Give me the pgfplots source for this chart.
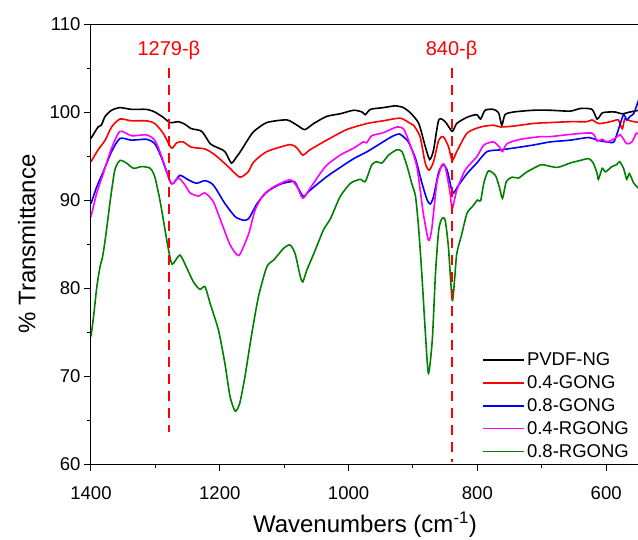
\documentclass[border=0pt]{standalone}
\usepackage{fontspec}
\setmainfont{Liberation Sans}
\usepackage{pgfplots}
\pgfplotsset{compat=1.18}
\definecolor{cgreen}{RGB}{0,128,0}
\definecolor{cmag}{RGB}{255,0,255}
\begin{document}
\begin{tikzpicture}
\begin{axis}[
  scale only axis, width=548pt, height=440pt,
  x dir=reverse, xmin=549, xmax=1400, ymin=60, ymax=110,
  axis line style={line width=1pt},
  xtick={600,800,1000,1200,1400}, ytick={60,70,...,110},
  extra x ticks={700,900,1100,1300}, extra y ticks={65,75,85,95,105},
  extra x tick labels={}, extra y tick labels={},
  extra tick style={major tick length=4pt, tick align=outside, tick pos=left},
  tick align=outside, tick pos=left,
  major tick length=7pt,
  tick style={line width=1pt, black},
  ticklabel style={font=\fontsize{18.5}{21}\selectfont},
  xticklabel style={yshift=-12pt},
  /pgf/number format/assume math mode=true,
  /pgf/number format/1000 sep={},
  xlabel={Wavenumbers (cm\textsuperscript{-1})},
  ylabel={\% Transmittance},
  label style={font=\fontsize{24}{28}\selectfont},
  xlabel style={at={(axis description cs:0.5,-0.138)}, anchor=center},
  ylabel style={at={(axis description cs:-0.117,0.5)}, anchor=center, rotate=0},
  legend style={at={(0.714,0.258)}, anchor=north west, draw=none, fill=none,
    font=\fontsize{18.5}{21}\selectfont, inner sep=0pt, row sep=4.5pt},
  legend cell align=left,
  legend image code/.code={\draw[#1, line width=1.6pt] (0pt,0pt) -- (38pt,0pt); \path (0pt,0pt) -- (41pt,0pt);},
]
\addplot[black, line width=1.6pt, smooth, tension=0.4] coordinates {(1400,97.0)(1389,98.3)(1384,98.5)(1378,99.5)(1368,100.2)(1355,100.5)(1337,100.3)(1314,100.3)(1301,100.0)(1288,99.4)(1277,98.8)(1264,98.9)(1254,98.6)(1244,98.1)(1228,97.8)(1215,96.4)(1205,96.0)(1192,95.5)(1182,94.2)(1174,94.9)(1168,95.5)(1156,96.9)(1147,97.8)(1127,98.8)(1096,99.1)(1080,98.5)(1068,98.0)(1054,98.7)(1034,99.5)(1013,99.8)(992,100.2)(979,100.0)(974,99.7)(966,100.3)(946,100.5)(927,100.7)(915,100.5)(904,99.9)(891,98.7)(881,96.1)(874,94.6)(868,95.7)(860,99.1)(850,98.9)(839,97.8)(832,98.7)(816,99.4)(801,99.7)(795,99.2)(788,100.2)(775,100.3)(767,99.9)(762,98.5)(757,99.7)(744,100.0)(713,100.2)(687,100.2)(656,100.1)(640,100.4)(622,100.3)(614,99.2)(606,99.9)(596,100.0)(586,100.0)(575,99.8)(563,100.0)(549,100.2)};
\addlegendentry{PVDF-NG}
\addplot[red, line width=1.6pt, smooth, tension=0.4] coordinates {(1400,94.35)(1389,95.7)(1378,96.8)(1368,98.3)(1355,99.2)(1337,99.0)(1314,99.0)(1301,98.7)(1288,97.6)(1275,95.9)(1267,96.5)(1257,96.6)(1244,96.0)(1223,95.8)(1207,95.1)(1187,93.8)(1169,92.6)(1156,93.2)(1147,94.35)(1127,95.5)(1091,96.3)(1080,95.9)(1071,95.1)(1060,95.7)(1034,96.8)(1003,98.0)(971,98.7)(946,99.0)(920,99.3)(904,98.7)(899,98.5)(889,97.2)(881,94.2)(875,93.4)(868,94.35)(860,96.8)(853,97.2)(845,96.1)(839,94.5)(832,95.5)(816,97.6)(795,98.3)(775,98.5)(764,98.3)(744,98.4)(713,98.7)(687,98.8)(656,98.9)(630,98.9)(622,99.1)(612,98.7)(600,98.8)(588,99.0)(581,99.1)(575,98.1)(571,99.2)(563,99.0)(549,98.8)};
\addlegendentry{0.4-GONG}
\addplot[blue, line width=1.6pt, smooth, tension=0.4] coordinates {(1400,89.6)(1391,91.5)(1381,93.2)(1368,95.5)(1355,97.0)(1337,96.8)(1314,96.9)(1301,96.4)(1291,94.9)(1277,92.1)(1272,91.9)(1262,92.8)(1249,92.3)(1236,91.9)(1223,92.2)(1210,91.7)(1192,89.6)(1176,88.1)(1163,87.7)(1155,87.9)(1142,89.6)(1127,90.9)(1106,91.8)(1085,92.1)(1078,91.3)(1070,90.4)(1060,91.1)(1034,92.65)(1013,93.7)(992,94.7)(971,95.5)(951,96.4)(933,97.2)(921,97.5)(912,97.0)(907,96.6)(896,94.7)(886,91.9)(878,90.0)(873,89.55)(868,90.4)(860,93.2)(853,94.0)(847,93.4)(841,91.5)(837,90.8)(829,91.7)(816,93.0)(801,94.2)(785,95.5)(764,95.7)(744,95.9)(713,96.25)(687,96.6)(656,96.8)(627,97.1)(614,96.8)(599,96.6)(588,96.6)(581,98.0)(573,99.7)(568,99.1)(563,99.5)(557,99.85)(549,101.5)};
\addlegendentry{0.8-GONG}
\addplot[cmag, line width=1.6pt, smooth, tension=0.4] coordinates {(1400,88.1)(1391,90.8)(1381,93.0)(1368,95.9)(1355,97.8)(1337,97.3)(1314,97.4)(1301,96.8)(1291,95.1)(1277,92.1)(1272,91.9)(1264,92.5)(1254,91.7)(1246,90.8)(1233,90.45)(1223,90.8)(1210,89.8)(1197,87.35)(1184,84.9)(1173,83.75)(1168,83.9)(1155,86.2)(1145,88.9)(1132,90.6)(1116,91.5)(1091,92.3)(1080,91.5)(1071,90.2)(1060,91.3)(1036,93.8)(1013,95.1)(992,95.9)(977,96.6)(972,96.5)(964,97.3)(946,97.65)(925,98.3)(915,98.1)(907,96.8)(894,93.8)(884,88.5)(876,85.45)(871,86.6)(863,91.9)(855,94.0)(850,93.8)(843,91.1)(839,89.05)(832,91.1)(819,93.4)(801,94.9)(790,96.25)(775,96.6)(766,96.05)(761,95.5)(754,96.4)(733,96.9)(702,97.2)(687,97.2)(656,97.45)(622,97.6)(614,96.7)(606,96.9)(599,96.6)(586,97.0)(578,97.4)(568,96.4)(560,96.6)(553,97.6)(549,97.4)};
\addlegendentry{0.4-RGONG}
\addplot[cgreen, line width=1.6pt, smooth, tension=0.4] coordinates {(1400,74.5)(1396,76.75)(1391,80.1)(1386,82.4)(1382,83.55)(1378,85.45)(1374,87.7)(1370,90.0)(1363,93.4)(1355,94.5)(1345,94.2)(1334,93.6)(1321,93.8)(1308,93.6)(1301,92.65)(1293,90.0)(1285,86.6)(1280,84.5)(1274,82.7)(1262,83.75)(1252,82.4)(1241,80.7)(1231,79.85)(1223,80.15)(1215,78.25)(1202,75.2)(1192,71.4)(1184,67.65)(1176,66.0)(1169,66.9)(1161,69.9)(1151,74.5)(1140,79.0)(1127,82.4)(1116,83.2)(1101,84.5)(1091,84.9)(1083,83.9)(1075,81.3)(1071,80.7)(1065,82.0)(1054,83.9)(1039,86.6)(1028,87.9)(1013,90.4)(997,91.9)(982,92.35)(974,92.1)(964,94.0)(956,94.35)(948,94.2)(938,95.1)(925,95.7)(917,95.5)(909,93.8)(902,91.9)(896,90.4)(891,86.6)(886,81.3)(881,75.2)(876,70.3)(870,74.1)(865,81.7)(860,86.6)(855,87.9)(850,87.7)(845,84.7)(839,78.6)(835,81.3)(832,83.9)(824,86.2)(816,88.5)(806,89.4)(800,90.0)(795,89.9)(790,91.9)(783,93.3)(772,92.8)(766,91.5)(761,90.2)(755,92.1)(746,92.6)(736,92.5)(723,93.2)(702,94.0)(697,94.0)(676,93.7)(656,94.2)(640,94.5)(627,94.7)(620,94.2)(614,93.0)(612,92.35)(606,93.6)(601,93.2)(591,93.8)(584,94.0)(579,94.35)(573,93.6)(568,92.35)(564,93.0)(557,91.9)(549,91.3)};
\addlegendentry{0.8-RGONG}
\addplot[red, line width=2pt, dash pattern=on 10pt off 7pt, forget plot] coordinates {(1279,105) (1279,63.6)};
\addplot[red, line width=2pt, dash pattern=on 10pt off 7pt, forget plot] coordinates {(840,105) (840,60.2)};
\node[red, font=\fontsize{20}{24}\selectfont] at (axis cs:1279,107) {1279-β};
\node[red, font=\fontsize{20}{24}\selectfont] at (axis cs:840,107) {840-β};
\end{axis}
\pgfresetboundingbox
\path (-91pt,-75pt) rectangle (547pt,464pt);
\end{tikzpicture}
\end{document}
